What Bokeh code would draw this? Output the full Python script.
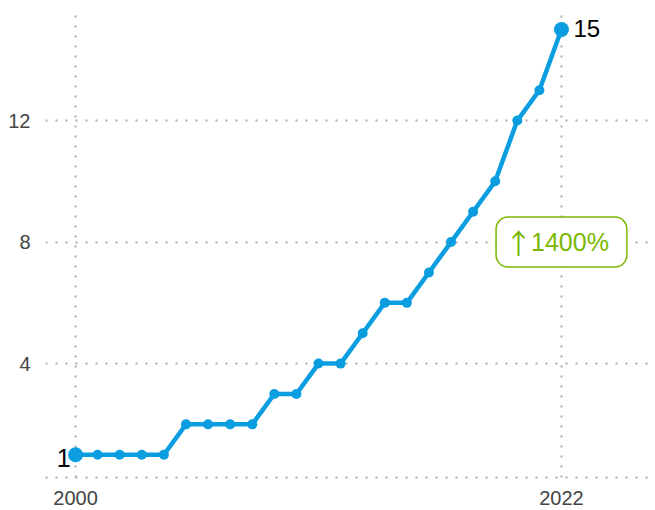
from bokeh.plotting import figure
from bokeh.models import ColumnDataSource, FixedTicker, Range1d, Label
from bokeh.embed import file_html
from bokeh.resources import INLINE

years = [2000, 2001, 2002, 2003, 2004, 2005, 2006, 2007, 2008, 2009, 2010, 2011,
         2012, 2013, 2014, 2015, 2016, 2017, 2018, 2019, 2020, 2021, 2022]
values = [1, 1, 1, 1, 1, 2, 2, 2, 2, 3, 3, 4, 4, 5, 6, 6, 7, 8, 9, 10, 12, 13, 15]
x_ticks = [2000, 2022]
y_ticks = [4, 8, 12]
change_arrow = "↑"
change_text = "1400%"

BLUE = "#0a9de0"
GREEN = "#7ab800"
FONT = "Liberation Sans"

p = figure(width=650, height=510, output_backend="svg", toolbar_location=None,
           x_range=Range1d(1998.64, 2025.94), y_range=Range1d(0.25, 15.69),
           min_border_left=45, min_border_right=2, min_border_top=8, min_border_bottom=33)
p.outline_line_color = None
p.background_fill_color = "white"
p.border_fill_color = "white"

for ax in (p.xaxis[0], p.yaxis[0]):
    ax.major_tick_line_color = None
    ax.minor_tick_line_color = None
    ax.major_label_text_font = FONT
    ax.major_label_text_font_size = "20px"
    ax.major_label_text_color = "#444444"
p.xaxis.ticker = FixedTicker(ticks=x_ticks)
p.yaxis.ticker = FixedTicker(ticks=y_ticks)
p.yaxis.axis_line_color = None
p.xaxis.axis_line_color = "#aaaaaa"
p.xaxis.axis_line_width = 2
p.xaxis.axis_line_dash = "2 8"
p.xaxis.major_label_standoff = 7
p.yaxis.major_label_standoff = 9

for g in (p.xgrid[0], p.ygrid[0]):
    g.grid_line_color = "#aaaaaa"
    g.grid_line_width = 2
    g.grid_line_dash = "2 8"
p.xgrid.ticker = FixedTicker(ticks=x_ticks)
p.ygrid.ticker = FixedTicker(ticks=y_ticks)

src = ColumnDataSource(dict(x=years, y=values))
p.line("x", "y", source=src, line_color=BLUE, line_width=4.5)
p.scatter("x", "y", source=src, size=10, fill_color=BLUE, line_color=None)
ends = ColumnDataSource(dict(x=[years[0], years[-1]], y=[values[0], values[-1]]))
p.scatter("x", "y", source=ends, size=15, fill_color=BLUE, line_color=None)

p.add_layout(Label(x=years[0], y=values[0], text=str(values[0]), text_align="right",
                   text_baseline="middle", x_offset=-5, y_offset=-3,
                   text_font=FONT, text_font_size="25px", text_color="black"))
p.add_layout(Label(x=years[-1], y=values[-1], text=str(values[-1]), text_align="left",
                   text_baseline="middle", x_offset=12, y_offset=1,
                   text_font=FONT, text_font_size="24px", text_color="black"))
p.add_layout(Label(x=years[-1], y=8, text=change_text, text_align="center",
                   text_baseline="middle", x_offset=0, text_font=FONT,
                   text_font_size="25px", text_color=GREEN,
                   background_fill_color="white",
                   border_line_color=GREEN, border_line_width=1.5,
                   padding=dict(left=35, right=18, top=11, bottom=11),
                   border_radius=12))
p.add_layout(Label(x=years[-1], y=8, text=change_arrow, text_align="center",
                   text_baseline="middle", x_offset=-43, y_offset=0,
                   text_font="Noto Sans CJK SC", text_font_size="28px", text_color=GREEN))

open("out.html", "w").write(file_html(p, INLINE))
